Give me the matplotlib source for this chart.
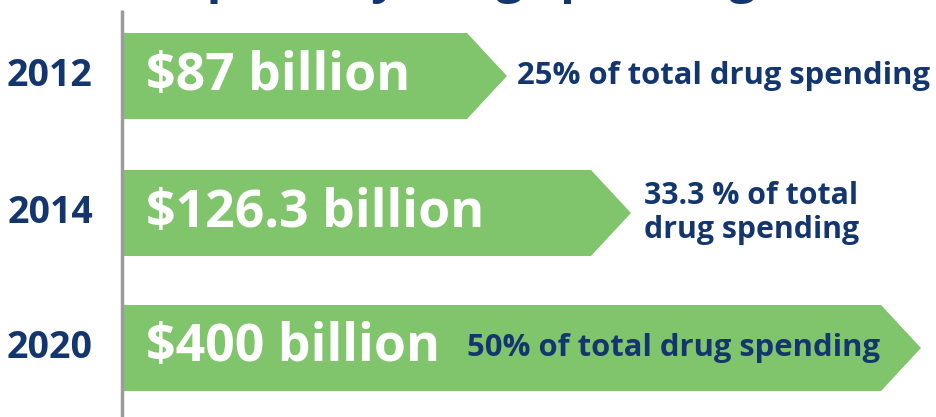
import matplotlib
matplotlib.use("Agg")
import matplotlib.pyplot as plt
from matplotlib.patches import Polygon

# data
years = ["2012", "2014", "2020"]
spend_bn = [87, 126.3, 400]
share_txt = ["25% of total drug spending",
             "33.3 % of total\ndrug spending",
             "50% of total drug spending"]
title = "Specialty drug spending"

# layout (pixels, figure is 936x417)
row_y = [76, 213, 348]
bar_len = [384, 508, 798]
share_x = [517, 644, 467]
share_size = [22.3, 21.8, 22.3]
bar_h = 86
x0 = 123
tip = 40

navy = "#14366f"
green = "#80c56b"
gray = "#9b9b9b"
font = "Open Sans"

fig = plt.figure(figsize=(9.36, 4.17), dpi=100)
ax = fig.add_axes([0, 0, 1, 1])
ax.set_xlim(0, 936)
ax.set_ylim(417, 0)
ax.axis("off")

# title, cut off at the top of the picture
ax.text(468, -8, title, ha="center", va="baseline", fontsize=35,
        fontweight="bold", color=navy, family=font, clip_on=False)

# vertical axis line
ax.plot([121.5, 121.5], [10, 417], color=gray, lw=2.5, solid_capstyle="butt")

for i in range(len(years)):
    y = row_y[i]
    L = bar_len[i]
    pts = [(x0, y - bar_h/2), (x0 + L - tip, y - bar_h/2), (x0 + L, y),
           (x0 + L - tip, y + bar_h/2), (x0, y + bar_h/2)]
    ax.add_patch(Polygon(pts, closed=True, facecolor=green, edgecolor="none"))
    ax.text(50, y, years[i], ha="center", va="center", fontsize=27,
            fontweight="bold", color=navy, family=font)
    ax.text(146, y, f"${spend_bn[i]:g} billion", ha="left", va="center",
            fontsize=37.3, fontweight="bold", color="white", family=font)
    ax.text(share_x[i], y, share_txt[i], ha="left", va="center",
            fontsize=share_size[i], fontweight="bold", color=navy,
            family=font, linespacing=1.15)

fig.savefig("out.png", dpi=100)
